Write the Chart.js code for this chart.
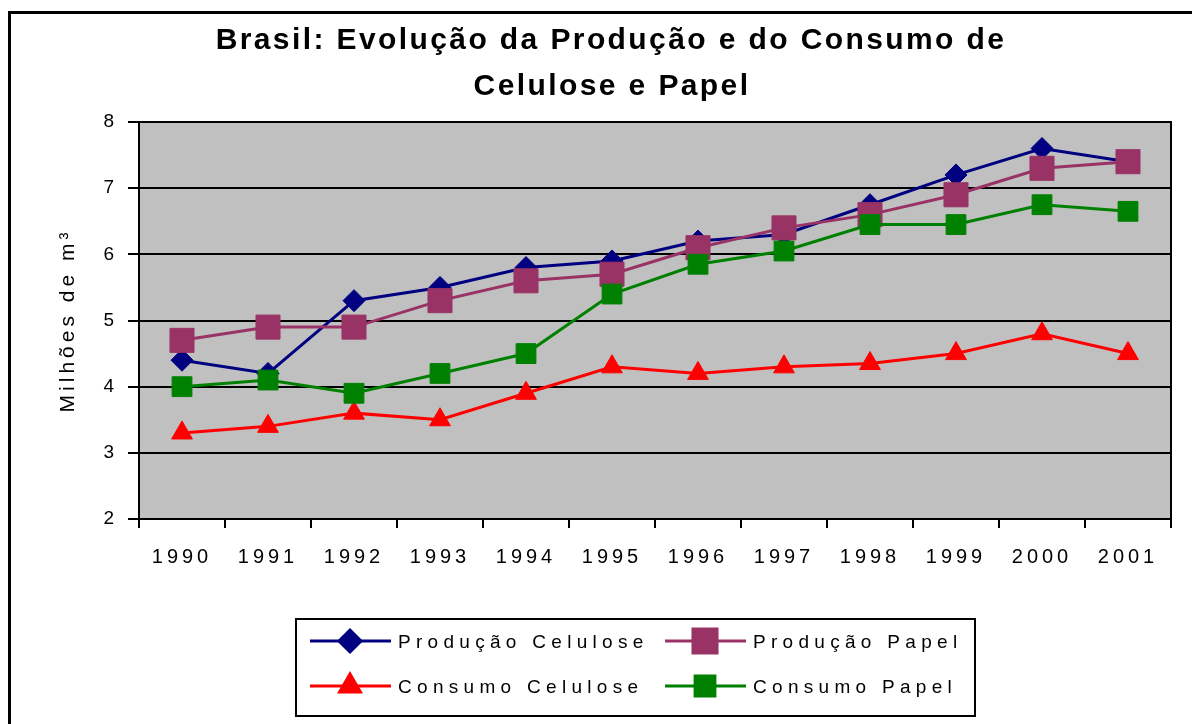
<!DOCTYPE html>
<html>
<head>
<meta charset="utf-8">
<script src="https://cdn.jsdelivr.net/npm/chart.js@4/dist/chart.umd.min.js"></script>
<style>
    html, body { margin: 0; padding: 0; background: #fff; }
    #wrap { width: 1192px; height: 724px; position: relative; }
</style>
</head>
<body>
<div id="wrap"><canvas id="chart" width="1192" height="724"></canvas></div>
<script>
// Chart data
const years = ['1990', '1991', '1992', '1993', '1994', '1995', '1996', '1997', '1998', '1999', '2000', '2001'];
const producaoCelulose = [4.4, 4.2, 5.3, 5.5, 5.8, 5.9, 6.2, 6.3, 6.75, 7.2, 7.6, 7.4];
const producaoPapel = [4.7, 4.9, 4.9, 5.3, 5.6, 5.7, 6.1, 6.4, 6.6, 6.9, 7.3, 7.4];
const consumoCelulose = [3.3, 3.4, 3.6, 3.5, 3.9, 4.3, 4.2, 4.3, 4.35, 4.5, 4.8, 4.5];
const consumoPapel = [4.0, 4.1, 3.9, 4.2, 4.5, 5.4, 5.85, 6.05, 6.45, 6.45, 6.75, 6.65];
const seriesNames = ['Produção Celulose', 'Produção Papel', 'Consumo Celulose', 'Consumo Papel'];
const titleLines = ['Brasil: Evolução da Produção e do Consumo de', 'Celulose e Papel'];
const yAxisTitle = 'Milhões de m³';

const FONT = "'Liberation Sans', Arial, sans-serif";

// Gray plot background + outer frame; also the wide letter spacing of the old chart
const backgroundPlugin = {
    id: 'plotBackground',
    beforeDraw(chart) {
        const { ctx, chartArea: a } = chart;
        ctx.letterSpacing = '4px';
        ctx.save();
        ctx.fillStyle = '#fff';
        ctx.fillRect(0, 0, chart.width, chart.height);
        ctx.strokeStyle = '#000';
        ctx.lineWidth = 3;
        ctx.beginPath();
        ctx.moveTo(9.5, chart.height + 5);
        ctx.lineTo(9.5, 12.5);
        ctx.lineTo(chart.width + 5, 12.5);
        ctx.stroke();
        ctx.fillStyle = '#C0C0C0';
        ctx.fillRect(a.left, a.top, a.right - a.left, a.bottom - a.top);
        ctx.restore();
    },
    beforeDatasetsDraw(chart) {
        const { ctx, chartArea: a } = chart;
        ctx.save();
        ctx.strokeStyle = '#000';
        ctx.lineWidth = 2;
        ctx.strokeRect(a.left, a.top, a.right - a.left, a.bottom - a.top);
        ctx.restore();
    }
};

// Two-line bold title
const titlePlugin = {
    id: 'twoLineTitle',
    afterDraw(chart) {
        const ctx = chart.ctx;
        ctx.save();
        ctx.letterSpacing = '2.4px';
        ctx.fillStyle = '#000';
        ctx.font = 'bold 30px ' + FONT;
        ctx.textAlign = 'center';
        ctx.textBaseline = 'alphabetic';
        ctx.fillText(titleLines[0], 611, 49);
        ctx.fillText(titleLines[1], 612, 95);
        ctx.restore();
    }
};

// Boxed 2x2 legend like the original
const legendPlugin = {
    id: 'boxLegend',
    afterDraw(chart) {
        const ctx = chart.ctx;
        ctx.save();
        ctx.strokeStyle = '#000';
        ctx.lineWidth = 2;
        ctx.strokeRect(296, 619, 679, 97);
        const cols = [310, 665];
        const rows = [641, 686];
        chart.data.datasets.forEach((ds, i) => {
            const x0 = cols[i % 2];
            const y0 = rows[Math.floor(i / 2)];
            ctx.strokeStyle = ds.borderColor;
            ctx.lineWidth = 3;
            ctx.beginPath();
            ctx.moveTo(x0, y0);
            ctx.lineTo(x0 + 81, y0);
            ctx.stroke();
            ctx.fillStyle = ds.pointBackgroundColor;
            ctx.strokeStyle = ds.pointBorderColor;
            Chart.helpers.drawPoint(ctx, {
                pointStyle: ds.pointStyle,
                radius: ds.pointRadius,
                rotation: 0,
                borderWidth: 1
            }, x0 + 40, y0);
            ctx.fillStyle = '#000';
            ctx.font = '19px ' + FONT;
            ctx.letterSpacing = '5.3px';
            ctx.textAlign = 'left';
            ctx.textBaseline = 'alphabetic';
            ctx.fillText(ds.label, x0 + 88, y0 + 7);
        });
        ctx.restore();
    }
};

function makeSeries(label, data, color, style, radius, order) {
    return {
        label: label,
        data: data,
        borderColor: color,
        backgroundColor: color,
        borderWidth: 3,
        pointStyle: style,
        pointRadius: radius,
        pointHoverRadius: radius,
        pointBackgroundColor: color,
        pointBorderColor: color,
        pointBorderWidth: 1,
        tension: 0,
        order: order
    };
}

const chart = new Chart(document.getElementById('chart'), {
    type: 'line',
    data: {
        labels: years,
        datasets: [
            makeSeries(seriesNames[0], producaoCelulose, '#000080', 'rectRot', 11, 4),
            makeSeries(seriesNames[1], producaoPapel, '#993366', 'rect', 17, 3),
            makeSeries(seriesNames[2], consumoCelulose, '#FF0000', 'triangle', 12, 2),
            makeSeries(seriesNames[3], consumoPapel, '#008000', 'rect', 14, 1)
        ]
    },
    plugins: [backgroundPlugin, titlePlugin, legendPlugin],
    options: {
        responsive: false,
        animation: false,
        layout: {
            padding: { top: 122, right: 21, bottom: 0, left: 0 }
        },
        plugins: {
            legend: { display: false },
            title: { display: false },
            tooltip: { enabled: false }
        },
        scales: {
            x: {
                offset: true,
                afterFit: (scale) => { scale.height = 205; },
                grid: {
                    offset: true,
                    drawOnChartArea: false,
                    drawTicks: true,
                    tickLength: 9,
                    color: '#000',
                    lineWidth: 2
                },
                border: { display: true, color: '#000', width: 2 },
                ticks: {
                    autoSkip: false,
                    maxRotation: 0,
                    padding: 17,
                    color: '#000',
                    font: { family: FONT, size: 20 }
                }
            },
            y: {
                min: 2,
                max: 8,
                afterFit: (scale) => { scale.width = 139; },
                grid: {
                    color: '#000',
                    lineWidth: 2,
                    tickLength: 11
                },
                border: { display: true, color: '#000', width: 2 },
                ticks: {
                    stepSize: 1,
                    padding: 10,
                    color: '#000',
                    font: { family: FONT, size: 19 }
                },
                title: {
                    display: true,
                    text: yAxisTitle,
                    color: '#000',
                    font: { family: FONT, size: 21 },
                    padding: { top: 56, bottom: 0 }
                }
            }
        }
    }
});
</script>
</body>
</html>
